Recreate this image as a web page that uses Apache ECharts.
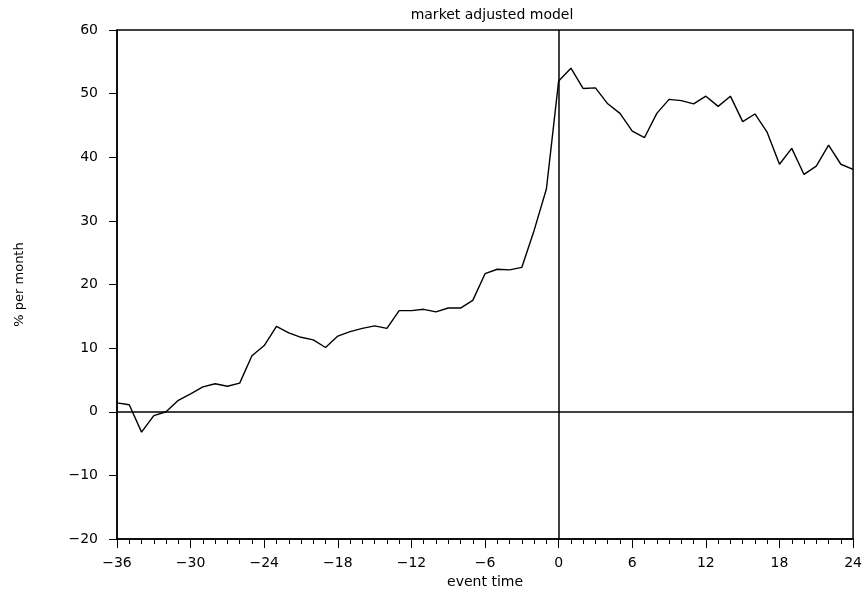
<!DOCTYPE html>
<html>
<head>
<meta charset="utf-8">
<script src="https://cdn.jsdelivr.net/npm/echarts@6/dist/echarts.min.js"></script>
<style>
  html, body { margin: 0; padding: 0; background: #fff; }
  #chart { width: 865px; height: 611px; }
</style>
</head>
<body>
<div id="chart"></div>
<script>
// Event time in months relative to the event
const eventTime = [
  -36, -35, -34, -33, -32, -31, -30, -29, -28, -27, -26, -25, -24,
  -23, -22, -21, -20, -19, -18, -17, -16, -15, -14, -13, -12, -11,
  -10, -9, -8, -7, -6, -5, -4, -3, -2, -1, 0, 1, 2, 3, 4, 5, 6,
  7, 8, 9, 10, 11, 12, 13, 14, 15, 16, 17, 18, 19, 20, 21, 22, 23, 24
];

// Cumulative abnormal return, % per month (market adjusted model)
const returnsPct = [
  1.4, 1.1, -3.2, -0.6, 0.0, 1.8, 2.8, 3.9, 4.4, 4.0, 4.5, 8.8, 10.4,
  13.4, 12.4, 11.7, 11.3, 10.1, 11.9, 12.6, 13.1, 13.5, 13.1, 15.9, 15.9, 16.1,
  15.7, 16.3, 16.3, 17.5, 21.7, 22.4, 22.3, 22.7, 28.5, 35.0, 52.0, 54.0, 50.8, 50.9, 48.4, 46.9, 44.1,
  43.1, 46.9, 49.1, 48.9, 48.4, 49.6, 48.0, 49.6, 45.6, 46.8, 43.9, 38.9, 41.4, 37.3, 38.6, 41.9, 38.9, 38.1
];

const xTicks = [-36, -30, -24, -18, -12, -6, 0, 6, 12, 18, 24];
const yTicks = [-20, -10, 0, 10, 20, 30, 40, 50, 60];

const fontFamily = '"DejaVu Sans", "Liberation Sans", sans-serif';
const minus = v => String(v).replace('-', '\u2212');

const chart = echarts.init(document.getElementById('chart'), null, { renderer: 'canvas' });

chart.setOption({
  animation: false,
  backgroundColor: '#ffffff',
  title: {
    text: 'market adjusted model',
    left: 487,
    top: 3,
    textAlign: 'center',
    textStyle: { fontFamily, fontSize: 14, fontWeight: 'normal', color: '#000' }
  },
  grid: {
    left: 117, right: 10, top: 30, bottom: 72,
    show: true, borderColor: '#000', borderWidth: 1.5, backgroundColor: 'transparent'
  },
  xAxis: {
    type: 'value',
    min: xTicks[0],
    max: xTicks[xTicks.length - 1],
    interval: 6,
    name: 'event time',
    nameLocation: 'middle',
    nameGap: 33,
    nameTextStyle: { fontFamily, fontSize: 14, color: '#000' },
    axisLine: { show: true, onZero: false, lineStyle: { color: '#000', width: 1.5 } },
    axisTick: { show: true, inside: false, length: 9, lineStyle: { color: '#000', width: 1 } },
    minorTick: { show: true, splitNumber: 6, length: 5, lineStyle: { color: '#000', width: 1 } },
    axisLabel: { margin: 17, fontFamily, fontSize: 14, color: '#000', formatter: minus },
    splitLine: { show: false }
  },
  yAxis: {
    type: 'value',
    min: yTicks[0],
    max: yTicks[yTicks.length - 1],
    interval: 10,
    name: '% per month',
    nameLocation: 'middle',
    nameGap: 91,
    nameRotate: 90,
    nameTextStyle: { fontFamily, fontSize: 13, color: '#000' },
    axisLine: { show: true, onZero: false, lineStyle: { color: '#000', width: 1.5 } },
    axisTick: { show: true, inside: false, length: 8, lineStyle: { color: '#000', width: 1 } },
    axisLabel: { margin: 19, fontFamily, fontSize: 14, color: '#000', formatter: minus },
    splitLine: { show: false }
  },
  series: [{
    type: 'line',
    data: eventTime.map((t, i) => [t, returnsPct[i]]),
    showSymbol: false,
    lineStyle: { color: '#000', width: 1.4 },
    markLine: {
      silent: true,
      symbol: 'none',
      label: { show: false },
      lineStyle: { color: '#000', width: 1.5, type: 'solid' },
      data: [{ yAxis: 0 }, { xAxis: 0 }]
    }
  }]
});
</script>
</body>
</html>
